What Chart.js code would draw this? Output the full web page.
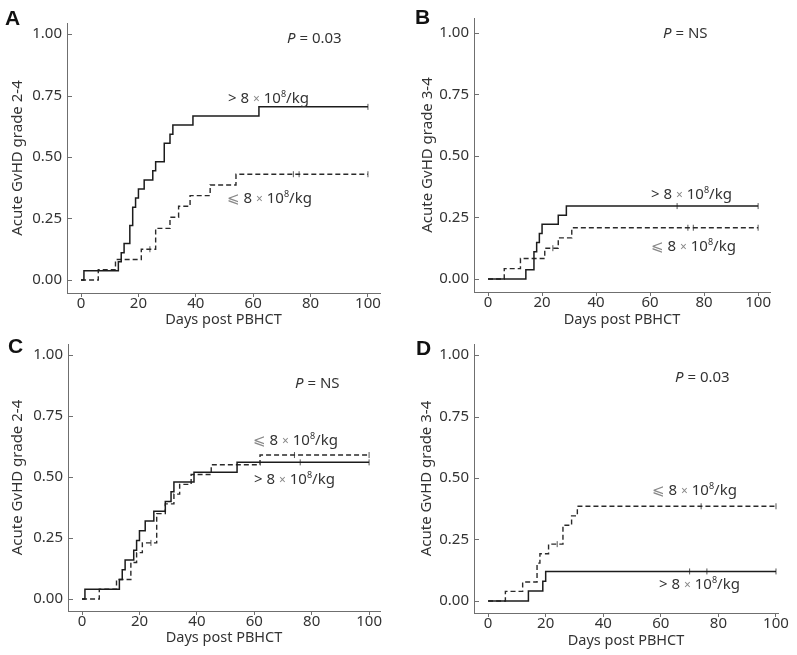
<!DOCTYPE html>
<html>
<head>
<meta charset="utf-8">
<script src="https://cdn.jsdelivr.net/npm/chart.js@4.4.1/dist/chart.umd.min.js"></script>
<style>
  body { margin: 0; background: #fff; }
  #wrap { position: relative; width: 797px; height: 655px; overflow: hidden; font-family: "Noto Sans", "DejaVu Sans", sans-serif; color: #333; }
  canvas { position: absolute; }
  .lbl { position: absolute; font-size: 15px; white-space: nowrap; transform: translateY(-50%); line-height: 1; }
  .lbl sup { font-size: 9px; vertical-align: 6px; }
  .lbl .x { color: #888; font-size: 12px; }
  .lbl .le { color: #888; font-family: "DejaVu Sans", sans-serif; }
  .tag { position: absolute; font-family: "Liberation Sans", sans-serif; font-weight: bold; font-size: 21px; color: #111; transform: translateY(-50%); line-height: 1; }
</style>
</head>
<body>
<div id="wrap">
  <canvas id="chartA" width="400" height="330" style="left:0;top:0"></canvas>
  <canvas id="chartB" width="397" height="330" style="left:400px;top:0"></canvas>
  <canvas id="chartC" width="400" height="325" style="left:0;top:330px"></canvas>
  <canvas id="chartD" width="397" height="325" style="left:400px;top:330px"></canvas>

  <div class="tag" style="left:5px;top:17px">A</div>
  <div class="tag" style="left:415px;top:16px">B</div>
  <div class="tag" style="left:8px;top:345px">C</div>
  <div class="tag" style="left:416px;top:347px">D</div>

  <div class="lbl" style="left:287px;top:37px"><i>P</i> = 0.03</div>
  <div class="lbl" style="left:228px;top:97px">&gt; 8 <span class="x">×</span> 10<sup>8</sup>/kg</div>
  <div class="lbl" style="left:227px;top:197px"><span class="le">&#x2A7D;</span> 8 <span class="x">×</span> 10<sup>8</sup>/kg</div>

  <div class="lbl" style="left:663px;top:32px"><i>P</i> = NS</div>
  <div class="lbl" style="left:651px;top:193px">&gt; 8 <span class="x">×</span> 10<sup>8</sup>/kg</div>
  <div class="lbl" style="left:651px;top:245px"><span class="le">&#x2A7D;</span> 8 <span class="x">×</span> 10<sup>8</sup>/kg</div>

  <div class="lbl" style="left:295px;top:382px"><i>P</i> = NS</div>
  <div class="lbl" style="left:253px;top:439px"><span class="le">&#x2A7D;</span> 8 <span class="x">×</span> 10<sup>8</sup>/kg</div>
  <div class="lbl" style="left:254px;top:478px">&gt; 8 <span class="x">×</span> 10<sup>8</sup>/kg</div>

  <div class="lbl" style="left:675px;top:376px"><i>P</i> = 0.03</div>
  <div class="lbl" style="left:652px;top:489px"><span class="le">&#x2A7D;</span> 8 <span class="x">×</span> 10<sup>8</sup>/kg</div>
  <div class="lbl" style="left:659px;top:583px">&gt; 8 <span class="x">×</span> 10<sup>8</sup>/kg</div>
</div>

<script>
// tick labels
var xTicks = [0, 20, 40, 60, 80, 100];
var yTicks = [0, 0.25, 0.5, 0.75, 1];

// A: acute GvHD grade 2-4
var aHighDays = [0, 1, 13, 14, 15, 17, 18, 19, 20, 22, 25, 26, 29, 31, 32, 39, 62, 100];
var aHighRisk = [0, 0.037, 0.074, 0.111, 0.148, 0.222, 0.296, 0.333, 0.370, 0.407, 0.444, 0.481, 0.556, 0.593, 0.630, 0.667, 0.704, 0.704];
var aHighCensor = [100];
var aLowDays = [0, 6, 12, 21, 26, 31, 34, 38, 45, 54, 100];
var aLowRisk = [0, 0.042, 0.083, 0.125, 0.210, 0.255, 0.300, 0.343, 0.386, 0.430, 0.430];
var aLowCensor = [24, 74, 76, 100];

// B: acute GvHD grade 3-4
var bHighDays = [0, 14, 17, 18, 19, 20, 26, 29, 100];
var bHighRisk = [0, 0.037, 0.111, 0.148, 0.185, 0.222, 0.259, 0.296, 0.296];
var bHighCensor = [70, 100];
var bLowDays = [0, 6, 12, 21, 26, 31, 100];
var bLowRisk = [0, 0.042, 0.083, 0.125, 0.167, 0.208, 0.208];
var bLowCensor = [24, 74, 76, 100];

// C: acute GvHD grade 2-4
var cHighDays = [0, 1, 13, 14, 15, 18, 19, 20, 22, 25, 29, 31, 32, 39, 54, 100];
var cHighRisk = [0, 0.04, 0.08, 0.12, 0.16, 0.20, 0.24, 0.28, 0.32, 0.36, 0.40, 0.44, 0.48, 0.52, 0.56, 0.56];
var cHighCensor = [76, 100];
var cLowDays = [0, 6, 12, 17, 19, 21, 26, 29, 32, 34, 38, 45, 62, 100];
var cLowRisk = [0, 0.04, 0.08, 0.15, 0.19, 0.23, 0.35, 0.39, 0.43, 0.47, 0.51, 0.55, 0.59, 0.59];
var cLowCensor = [24, 74, 100];

// D: acute GvHD grade 3-4
var dHighDays = [0, 14, 19, 20, 100];
var dHighRisk = [0, 0.04, 0.08, 0.12, 0.12];
var dHighCensor = [70, 76, 100];
var dLowDays = [0, 6, 12, 17, 18, 21, 26, 29, 31, 100];
var dLowRisk = [0, 0.039, 0.077, 0.154, 0.192, 0.231, 0.308, 0.346, 0.385, 0.385];
var dLowCensor = [24, 74, 100];

var axisColor = '#6f6f6f';
var lineColor = '#1c1c1c';
var font = "'Noto Sans', 'DejaVu Sans', sans-serif";

function toPoints(days, risk) {
    return days.map(function (d, i) { return { x: d, y: risk[i] }; });
}

// value of the step curve at day t
function stepAt(days, risk, t) {
    var v = risk[0];
    for (var i = 0; i < days.length; i++) {
        if (days[i] <= t) v = risk[i];
    }
    return v;
}

function censorPoints(days, risk, censor) {
    return censor.map(function (t) { return { x: t, y: stepAt(days, risk, t) }; });
}

// small ticks pointing into the plot on the y axis
var innerTicks = {
    id: 'innerTicks',
    afterDraw: function (chart) {
        var ctx = chart.ctx, y = chart.scales.y, left = chart.chartArea.left;
        ctx.save();
        ctx.strokeStyle = axisColor;
        ctx.lineWidth = 1;
        y.ticks.forEach(function (t) {
            var py = Math.round(y.getPixelForValue(t.value)) + 0.5;
            ctx.beginPath();
            ctx.moveTo(left, py);
            ctx.lineTo(left + 5, py);
            ctx.stroke();
        });
        ctx.restore();
    }
};

function makePanel(p) {
    var canvas = document.getElementById(p.id);
    var H = canvas.height, W = canvas.width;
    new Chart(canvas.getContext('2d'), {
        type: 'line',
        data: {
            datasets: [
                { data: toPoints(p.highDays, p.highRisk), stepped: true, borderColor: lineColor, borderWidth: 1.5, pointRadius: 0, fill: false },
                { data: toPoints(p.lowDays, p.lowRisk), stepped: true, borderColor: '#2a2a2a', borderWidth: 1.4, borderDash: [5, 3], pointRadius: 0, fill: false },
                { type: 'scatter', data: censorPoints(p.highDays, p.highRisk, p.highCensor), pointStyle: 'line', rotation: 90, pointRadius: 3, pointBorderWidth: 1, pointBorderColor: '#555' },
                { type: 'scatter', data: censorPoints(p.lowDays, p.lowRisk, p.lowCensor), pointStyle: 'line', rotation: 90, pointRadius: 3, pointBorderWidth: 1, pointBorderColor: '#555' }
            ]
        },
        options: {
            responsive: false,
            animation: false,
            events: [],
            layout: { padding: { top: p.top, right: W - p.right, left: 0, bottom: 0 } },
            plugins: { legend: { display: false }, tooltip: { enabled: false } },
            scales: {
                x: {
                    type: 'linear', min: p.xMin, max: p.xMax,
                    afterFit: function (s) { s.height = H - p.bottom; },
                    afterBuildTicks: function (s) { s.ticks = xTicks.map(function (v) { return { value: v }; }); },
                    ticks: { color: '#333', font: { family: font, size: 15 }, padding: -2, maxRotation: 0 },
                    grid: { drawOnChartArea: false, tickLength: 4, color: axisColor },
                    border: { color: axisColor, width: 1 },
                    title: { display: true, text: 'Days post PBHCT', color: '#333', font: { family: font, size: 14.5 }, padding: { top: 0, bottom: p.xTitlePad } }
                },
                y: {
                    type: 'linear', min: p.yMin, max: p.yMax,
                    afterFit: function (s) { s.width = p.left; },
                    afterBuildTicks: function (s) { s.ticks = yTicks.map(function (v) { return { value: v }; }); },
                    ticks: { color: '#333', font: { family: font, size: 15 }, padding: 5, callback: function (v) { return v.toFixed(2); } },
                    grid: { display: false, drawTicks: false },
                    border: { display: true, color: axisColor, width: 1 },
                    title: { display: true, text: p.yTitle, color: '#333', font: { family: font, size: 15 }, padding: { top: p.yTitlePad, bottom: 0 } }
                }
            }
        },
        plugins: [innerTicks]
    });
}

makePanel({ id: 'chartA', left: 67, right: 380, top: 23, bottom: 293, xMin: -4.9, xMax: 104.2, yMin: -0.053, yMax: 1.045,
    yTitle: 'Acute GvHD grade 2-4', xTitlePad: 1.3, yTitlePad: 9,
    highDays: aHighDays, highRisk: aHighRisk, highCensor: aHighCensor, lowDays: aLowDays, lowRisk: aLowRisk, lowCensor: aLowCensor });
makePanel({ id: 'chartB', left: 74, right: 370, top: 18, bottom: 292, xMin: -5.2, xMax: 104.4, yMin: -0.053, yMax: 1.06,
    yTitle: 'Acute GvHD grade 3-4', xTitlePad: 1.3, yTitlePad: 19,
    highDays: bHighDays, highRisk: bHighRisk, highCensor: bHighCensor, lowDays: bLowDays, lowRisk: bLowRisk, lowCensor: bLowCensor });
makePanel({ id: 'chartC', left: 68, right: 380, top: 12, bottom: 281, xMin: -4.9, xMax: 103.8, yMin: -0.049, yMax: 1.045,
    yTitle: 'Acute GvHD grade 2-4', xTitlePad: 8.3, yTitlePad: 9,
    highDays: cHighDays, highRisk: cHighRisk, highCensor: cHighCensor, lowDays: cLowDays, lowRisk: cLowRisk, lowCensor: cLowCensor });
makePanel({ id: 'chartD', left: 74, right: 378, top: 13, bottom: 283, xMin: -4.9, xMax: 100.7, yMin: -0.049, yMax: 1.045,
    yTitle: 'Acute GvHD grade 3-4', xTitlePad: 5.3, yTitlePad: 18,
    highDays: dHighDays, highRisk: dHighRisk, highCensor: dHighCensor, lowDays: dLowDays, lowRisk: dLowRisk, lowCensor: dLowCensor });
</script>
</body>
</html>
